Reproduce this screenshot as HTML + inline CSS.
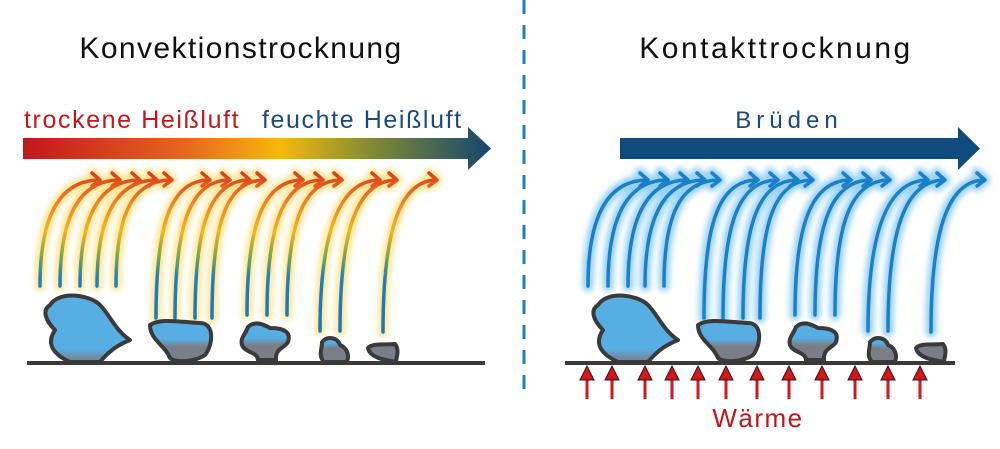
<!DOCTYPE html>
<html><head><meta charset="utf-8"><style>html,body{margin:0;padding:0;background:#fff}svg{display:block}</style></head>
<body>
<svg width="1000" height="449" viewBox="0 0 1000 449" xmlns="http://www.w3.org/2000/svg" font-family="Liberation Sans, sans-serif">
<defs>
<linearGradient id="bar" x1="0" x2="1" y1="0" y2="0">
<stop offset="0" stop-color="#c4161c"/><stop offset="0.35" stop-color="#e8671e"/><stop offset="0.55" stop-color="#f6b80c"/><stop offset="0.75" stop-color="#7f8a35"/><stop offset="1" stop-color="#13466e"/></linearGradient>
<linearGradient id="cv" gradientUnits="userSpaceOnUse" x1="0" y1="335" x2="0" y2="175">
<stop offset="0" stop-color="#1b75bc"/><stop offset="0.35" stop-color="#1b80c0"/><stop offset="0.5" stop-color="#7fa84a"/><stop offset="0.65" stop-color="#f2b51a"/><stop offset="0.84" stop-color="#ef8020"/><stop offset="1" stop-color="#d9411f"/></linearGradient>
<filter id="bl" x="-50%" y="-50%" width="200%" height="200%"><feGaussianBlur stdDeviation="3"/></filter>
<linearGradient id="b1" x1="0" y1="0" x2="0" y2="1"><stop offset="0.8" stop-color="#56aee3"/><stop offset="1" stop-color="#7a7e86"/></linearGradient>
<linearGradient id="b2" x1="0" y1="0" x2="0" y2="1"><stop offset="0.45" stop-color="#56aee3"/><stop offset="0.65" stop-color="#7a7e86"/></linearGradient>
<linearGradient id="b3" x1="0" y1="0" x2="0" y2="1"><stop offset="0.4" stop-color="#56aee3"/><stop offset="0.6" stop-color="#7a7e86"/></linearGradient>
<linearGradient id="b4" x1="0" y1="0" x2="0" y2="1"><stop offset="0.2" stop-color="#56aee3"/><stop offset="0.45" stop-color="#7a7e86"/></linearGradient>
<g id="blobs" stroke="#3a3a3a" stroke-width="4" stroke-linejoin="round">
<path fill="url(#b1)" d="M50,305 C60,290 90,295 100,305 C110,315 115,330 130,340 C118,345 110,350 100,362 L70,362 C55,355 45,345 55,330 C45,320 42,310 50,305Z"/>
<path fill="url(#b2)" d="M150,325 C160,318 180,322 200,323 C215,323 213,345 205,355 C195,362 175,363 170,358 C165,345 150,340 150,325Z"/>
<path fill="url(#b3)" d="M248,327 C255,320 265,325 270,328 C280,328 292,330 288,342 C285,348 275,348 276,360 L258,360 C258,352 245,353 242,345 C240,338 245,335 248,327Z"/>
<path fill="url(#b4)" d="M322,342 C328,335 338,338 340,345 C348,348 350,358 346,362 L324,362 C318,355 322,350 322,342Z"/>
<path fill="#7a7e86" d="M368,348 C372,343 385,345 395,344 C400,350 396,358 396,362 C385,360 370,358 368,348Z"/>
</g>
<g id="curves" fill="none" stroke-linecap="round" stroke-linejoin="round">
<path d="M40,286 C40,215 60,180 100,180 M92,173 L100,180 L92,186"/>
<path d="M60,286 C60,215 80,180 120,180 M112,173 L120,180 L112,186"/>
<path d="M80,286 C80,215 100,180 140,180 M132,173 L140,180 L132,186"/>
<path d="M97,286 C97,215 117,180 157,180 M149,173 L157,180 L149,186"/>
<path d="M116,286 C116,215 132,180 172,180 M164,173 L172,180 L164,186"/>
<path d="M156,318 C156,225 170,180 210,180 M202,173 L210,180 L202,186"/>
<path d="M175,318 C175,225 190,180 230,180 M222,173 L230,180 L222,186"/>
<path d="M195,318 C195,225 210,180 250,180 M242,173 L250,180 L242,186"/>
<path d="M212,318 C212,225 225,180 265,180 M257,173 L265,180 L257,186"/>
<path d="M247,315 C247,225 263,180 303,180 M295,173 L303,180 L295,186"/>
<path d="M267,315 C267,225 283,180 323,180 M315,173 L323,180 L315,186"/>
<path d="M287,315 C287,225 302,180 342,180 M334,173 L342,180 L334,186"/>
<path d="M320,331 C320,230 340,180 380,180 M372,173 L380,180 L372,186"/>
<path d="M340,331 C340,230 357,180 397,180 M389,173 L397,180 L389,186"/>
<path d="M383,332 C383,230 400,180 437,180 M429,173 L437,180 L429,186"/>
</g>
</defs>

<line x1="524" y1="0" x2="524" y2="390" stroke="#1b7fc4" stroke-width="3" stroke-dasharray="14,11"/>

<text x="241" y="58" font-size="30" text-anchor="middle" letter-spacing="1.4" fill="#111">Konvektionstrocknung</text>
<text x="24" y="128" font-size="25" letter-spacing="1.6" fill="#c4161c">trockene Heißluft</text>
<text x="262" y="128" font-size="25" letter-spacing="1.6" fill="#1d4a7e">feuchte Heißluft</text>
<path d="M23,138 H468 V127 L491,148.5 L468,170 V159 H23Z" fill="url(#bar)"/>
<use href="#curves" stroke="#ffd860" stroke-width="10" opacity="0.7" filter="url(#bl)"/>
<use href="#curves" stroke="url(#cv)" stroke-width="3.5"/>
<line x1="27" y1="363" x2="485" y2="363" stroke="#3a3a3a" stroke-width="4"/>
<use href="#blobs"/>

<text x="776" y="58" font-size="30" text-anchor="middle" letter-spacing="2.5" fill="#111">Kontakttrocknung</text>
<text x="789" y="128" font-size="24" text-anchor="middle" fill="#1d4a7e" letter-spacing="5">Brüden</text>
<path d="M620,138 H958 V127 L980,148.5 L958,170 V159 H620Z" fill="#0f4b7d"/>
<g transform="translate(548,0)">
<use href="#curves" stroke="#7cc6f2" stroke-width="11" opacity="0.8" filter="url(#bl)"/>
<use href="#curves" stroke="#1b80c8" stroke-width="3.5"/>
</g>
<line x1="565" y1="363" x2="955" y2="363" stroke="#3a3a3a" stroke-width="4"/>
<use href="#blobs" transform="translate(548,0)"/>
<g fill="#d0181e" stroke="#3a1010" stroke-width="1">
<g id="ar"><rect x="585.5" y="377" width="3" height="22" stroke="none"/><path d="M580,380 L587,366 L594,380Z"/></g>
<use href="#ar" x="25"/><use href="#ar" x="58"/><use href="#ar" x="85"/><use href="#ar" x="111"/><use href="#ar" x="139"/><use href="#ar" x="170"/><use href="#ar" x="202"/><use href="#ar" x="235"/><use href="#ar" x="268"/><use href="#ar" x="301"/><use href="#ar" x="333"/>
</g>
<text x="758" y="427" font-size="26" text-anchor="middle" letter-spacing="1.5" fill="#c4161c">Wärme</text>
</svg>
</body></html>
